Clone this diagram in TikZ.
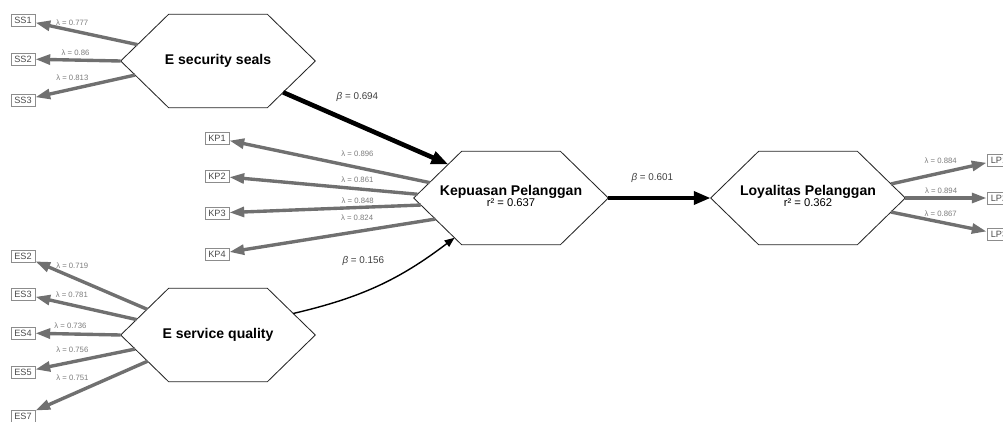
\documentclass[tikz,border=0pt]{standalone}
\usepackage{fontspec}
\setmainfont{Liberation Sans}
\usetikzlibrary{arrows.meta,calc}
\definecolor{LoadGray}{RGB}{112,112,112}
\definecolor{BoxGray}{RGB}{140,140,140}
\definecolor{LblGray}{RGB}{125,125,125}

\begin{document}
\begin{tikzpicture}[x=0.025cm,y=-0.025cm,
hex/.style={rectangle,minimum width=4.85cm,minimum height=2.325cm,inner sep=0pt},
hexline/.style={draw=black!85,line width=0.6pt,fill=white},
ttl/.style={font=\fontsize{10}{12}\selectfont\bfseries,inner sep=0pt},
rsq/.style={font=\fontsize{8}{9}\selectfont,inner sep=0pt},
ind/.style={draw=BoxGray,line width=0.6pt,fill=white,minimum width=0.6cm,minimum height=0.3cm,inner sep=0pt,text=black!70,font=\fontsize{6.5}{7}\selectfont},
load/.style={draw=LoadGray,line width=2.4pt,-{Triangle[length=10.5pt,width=7pt]}},
struct/.style={draw=black,line width=3.3pt,-{Triangle[length=12pt,width=9pt]}},
lam/.style={font=\fontsize{5.5}{6}\selectfont,text=LblGray,inner sep=0.5pt},
bet/.style={font=\fontsize{7}{8}\selectfont,text=black!75,inner sep=0.5pt}
]
\clip (0,0) rectangle (1003,421);
\fill[white] (0,0) rectangle (1003,421);
% constructs
\node[hex] (ess) at (218,61) {};
\node[hex] (esq) at (218,335) {};
\node[hex] (kep) at (511,198) {};
\node[hex] (loy) at (808,198) {};
\foreach \h in {ess,esq,kep,loy}
  \draw[hexline] (\h.west) -- ([xshift=1.2cm]\h.north west) coordinate (\h-nw)
    -- ([xshift=-1.2cm]\h.north east) coordinate (\h-ne) -- (\h.east)
    -- ([xshift=-1.2cm]\h.south east) coordinate (\h-se)
    -- ([xshift=1.2cm]\h.south west) coordinate (\h-sw) -- cycle;
\node[ttl] (ess-t) at (ess) {E security seals};
\node[ttl] (esq-t) at (esq) {E service quality};
\node[ttl] (kep-t) at (511,192) {Kepuasan Pelanggan};
\node[rsq] (kep-r) at (511,203) {r² = 0.637};
\node[ttl] (loy-t) at (808,192) {Loyalitas Pelanggan};
\node[rsq] (loy-r) at (808,203) {r² = 0.362};
% indicators
\node[ind] (ss1) at (23,20) {SS1};
\node[ind] (ss2) at (23,59) {SS2};
\node[ind] (ss3) at (23,100) {SS3};
\node[ind] (kp1) at (217,138) {KP1};
\node[ind] (kp2) at (217,176) {KP2};
\node[ind] (kp3) at (217,213) {KP3};
\node[ind] (kp4) at (217,254) {KP4};
\node[ind] (es2) at (23,256) {ES2};
\node[ind] (es3) at (23,294) {ES3};
\node[ind] (es4) at (23,333) {ES4};
\node[ind] (es5) at (23,372) {ES5};
\node[ind] (es7) at (23,416) {ES7};
\node[ind] (lp1) at (999,160) {LP1};
\node[ind] (lp2) at (999,198) {LP2};
\node[ind] (lp3) at (999,234) {LP3};
% outer loadings
\draw[load] ($(ess.west)!.35!(ess-nw)$) -- (ss1) node[lam,pos=.64,above=2.2pt]{λ = 0.777};
\draw[load] (ess.west) -- (ss2) node[lam,pos=.53,above=1.8pt]{λ = 0.86};
\draw[load] ($(ess.west)!.3!(ess-sw)$) -- (ss3) node[lam,pos=.63,above=4.6pt]{λ = 0.813};
\draw[load] ($(kep.west)!.33!(kep-nw)$) -- (kp1) node[lam,pos=.36,above=6pt]{λ = 0.896};
\draw[load] ($(kep.west)!.08!(kep-nw)$) -- (kp2) node[lam,pos=.32,above=3pt]{λ = 0.861};
\draw[load] ($(kep.west)!.15!(kep-sw)$) -- (kp3) node[lam,pos=.33,above=1.3pt]{λ = 0.848};
\draw[load] ($(kep.west)!.45!(kep-sw)$) -- (kp4) node[lam,pos=.38,above=6pt]{λ = 0.824};
\draw[load] ($(esq.west)!.55!(esq-nw)$) -- (es2) node[lam,pos=.67,above=4.6pt]{λ = 0.719};
\draw[load] ($(esq.west)!.33!(esq-nw)$) -- (es3) node[lam,pos=.64,above=3.3pt]{λ = 0.781};
\draw[load] (esq.west) -- (es4) node[lam,pos=.59,above=1.8pt]{λ = 0.736};
\draw[load] ($(esq.west)!.3!(esq-sw)$) -- (es5) node[lam,pos=.63,above=4.9pt]{λ = 0.756};
\draw[load] ($(esq.west)!.56!(esq-sw)$) -- (es7) node[lam,pos=.67,above=8pt]{λ = 0.751};
\draw[load] ($(loy.east)!.3!(loy-ne)$) -- (lp1) node[lam,pos=.52,above=4.9pt]{λ = 0.884};
\draw[load] (loy.east) -- (lp2) node[lam,pos=.44,above=1.1pt]{λ = 0.894};
\draw[load] ($(loy.east)!.3!(loy-se)$) -- (lp3) node[lam,pos=.52,above=2pt]{λ = 0.867};
% paths
\draw[struct] ($(ess.east)!.67!(ess-se)$) -- ($(kep.west)!.72!(kep-nw)$) node[bet,pos=.45,above=14pt]{\textit{β} = 0.694};
\draw[black,line width=1pt,-{Triangle[length=7pt,width=5.5pt]}] ($(esq.east)!.46!(esq-ne)$) to[bend right=12] node[bet,pos=.4,above=18pt]{\textit{β} = 0.156} ($(kep.west)!.85!(kep-sw)$);
\draw[struct] (kep.east) -- (loy.west) node[bet,pos=.43,above=8.5pt]{\textit{β} = 0.601};
\end{tikzpicture}
\end{document}
